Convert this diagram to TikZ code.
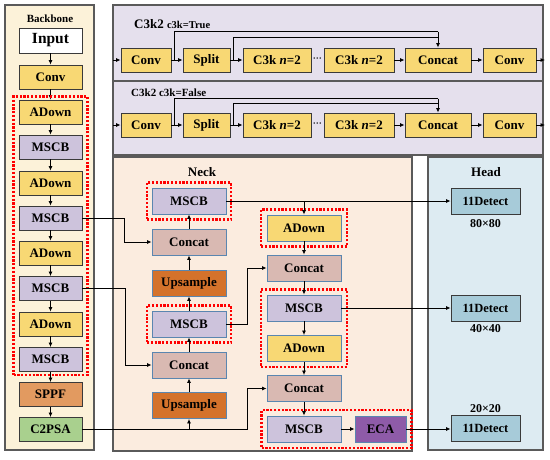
\documentclass[tikz,border=0pt]{standalone}
\usepackage{fontspec}
\setmainfont{Liberation Serif}
\usetikzlibrary{arrows.meta,fit,calc}
\definecolor{bbbg}{HTML}{FCF2D9}
\definecolor{topbg}{HTML}{E5E0ED}
\definecolor{neckbg}{HTML}{FBECDF}
\definecolor{headbg}{HTML}{DDEBF2}
\definecolor{yel}{HTML}{F8D874}
\definecolor{msc}{HTML}{CDC3DC}
\definecolor{cat}{HTML}{D9B9B2}
\definecolor{ups}{HTML}{D4722B}
\definecolor{eca}{HTML}{8E5BA8}
\definecolor{det}{HTML}{A7CBD9}
\definecolor{spp}{HTML}{E29A60}
\definecolor{c2p}{HTML}{A9D08E}
\definecolor{nbord}{HTML}{5A86B0}
\definecolor{dbord}{HTML}{3A3A3A}
\definecolor{pbord}{HTML}{5A5A5A}
\begin{document}
\begin{tikzpicture}[x=1pt,y=-1pt,
  panel/.style={draw=pbord,line width=1.2pt},
  blk/.style={draw=dbord,line width=0.9pt,minimum width=63pt,minimum height=24pt,inner sep=0pt,font=\bfseries\fontsize{13}{13}\selectfont},
  tblk/.style={draw=dbord,line width=0.9pt,minimum height=24pt,inner sep=0pt,font=\bfseries\fontsize{13}{13}\selectfont,fill=yel},
  nblk/.style={draw=nbord,line width=0.9pt,minimum width=74pt,minimum height=26pt,inner sep=0pt,font=\bfseries\fontsize{13}{13}\selectfont},
  hblk/.style={draw=dbord,line width=0.9pt,minimum width=69pt,minimum height=26pt,inner sep=0pt,fill=det,font=\bfseries\fontsize{12.5}{12.5}\selectfont},
  reddot/.style={draw=red,line width=2.3pt,dash pattern=on 2.2pt off 1.6pt},
  arr/.style={-{Latex[length=4.5pt,width=4pt]},line width=0.8pt,black},
  ln/.style={line width=0.8pt,black},
  ttl/.style={font=\bfseries\fontsize{13}{13}\selectfont,inner sep=0pt},
  lbl/.style={font=\bfseries\fontsize{12}{12}\selectfont,inner sep=0pt}]
\useasboundingbox (0,0) rectangle (550,459);
% panels
\draw[panel,fill=bbbg] (5,5) rectangle (94,450);
\draw[panel,fill=topbg] (113,5) rectangle (543,81);
\draw[panel,fill=topbg] (113,81) rectangle (543,155);
\draw[panel,fill=neckbg] (113,157) rectangle (412,451);
\draw[panel,fill=headbg] (428,157) rectangle (543,450);
% titles
\node[font=\bfseries\fontsize{11}{11}\selectfont,inner sep=0pt] (tbb) at (50,19) {Backbone};
\node[ttl] (tneck) at (202,172) {Neck};
\node[ttl] (thead) at (486,172) {Head};
\node[anchor=west,inner sep=0pt] (t1) at (134,24) {\bfseries\fontsize{13}{13}\selectfont C3k2 \fontsize{10.5}{10.5}\selectfont c3k=True};
\node[anchor=west,inner sep=0pt] (t2) at (131,93) {\bfseries\fontsize{11}{11}\selectfont C3k2 c3k=False};
% backbone
\node[blk,fill=white,minimum height=25pt,font=\bfseries\fontsize{15.5}{15.5}\selectfont] (b0) at (50.5,40.5) {Input};
\node[blk,fill=yel] (b1) at (50.5,77) {Conv};
\node[blk,fill=yel] (b2) at (50.5,112) {ADown};
\node[blk,fill=msc] (b3) at (50.5,147) {MSCB};
\node[blk,fill=yel] (b4) at (50.5,183) {ADown};
\node[blk,fill=msc] (b5) at (50.5,218) {MSCB};
\node[blk,fill=yel] (b6) at (50.5,253) {ADown};
\node[blk,fill=msc] (b7) at (50.5,288.5) {MSCB};
\node[blk,fill=yel] (b8) at (50.5,324) {ADown};
\node[blk,fill=msc] (b9) at (50.5,359.5) {MSCB};
\node[blk,fill=spp] (b10) at (50.5,394.5) {SPPF};
\node[blk,fill=c2p] (b11) at (50.5,429.5) {C2PSA};
\foreach \a/\b in {b0/b1,b1/b2,b2/b3,b3/b4,b4/b5,b5/b6,b6/b7,b7/b8,b8/b9,b9/b10,b10/b11}
  \draw[arr] (\a.south) -- (\b.north);
\node[reddot,fit=(b2)(b9),inner xsep=5pt,inner ysep=3pt] (rb) {};
% top panels
\foreach \r/\y in {p/60,q/125}{
  \node[tblk,minimum width=50pt] (\r1) at (146,\y) {Conv};
  \node[tblk,minimum width=47pt] (\r2) at (206.5,\y) {Split};
  \node[tblk,minimum width=68pt] (\r3) at (277,\y) {C3k \textit{n}=2};
  \node[font=\bfseries\fontsize{9}{9}\selectfont,inner sep=0pt] (\r d) at (317.5,\y) {···};
  \node[tblk,minimum width=70pt] (\r4) at (359,\y) {C3k \textit{n}=2};
  \node[tblk,minimum width=66pt] (\r5) at (438,\y) {Concat};
  \node[tblk,minimum width=53pt] (\r6) at (509.5,\y) {Conv};
  \coordinate (\r in) at (113,\y);
  \coordinate (\r out) at (545,\y);
  \draw[arr] (\r in) -- (\r1.west);
  \draw[arr] (\r1.east) -- (\r2.west);
  \draw[arr] (\r2.east) -- (\r3.west);
  \draw[arr] (\r4.east) -- (\r5.west);
  \draw[arr] (\r5.east) -- (\r6.west);
  \draw[arr] (\r6.east) -- (\r out);
}
\draw[ln] ([xshift=3pt]p1.east) |- ([yshift=16pt]p5.north);
\draw[ln] ([xshift=3pt]p2.east) |- ([yshift=10pt]p5.north);
\draw[arr] ([yshift=16pt]p5.north) -- (p5.north);
\draw[ln] ([xshift=3pt]q1.east) |- ([yshift=14pt]q5.north);
\draw[ln] ([xshift=3pt]q2.east) |- ([yshift=9pt]q5.north);
\draw[arr] ([yshift=14pt]q5.north) -- (q5.north);
% neck left column
\node[nblk,fill=msc] (nm1) at (189,201) {MSCB};
\node[nblk,fill=cat] (nc1) at (189,242) {Concat};
\node[nblk,fill=ups] (nu1) at (189,283) {Upsample};
\node[nblk,fill=msc] (nm2) at (189,324) {MSCB};
\node[nblk,fill=cat] (nc2) at (189,365) {Concat};
\node[nblk,fill=ups] (nu2) at (189,405.5) {Upsample};
\node[reddot,fit=(nm1),inner xsep=4.5pt,inner ysep=5pt] (rn1) {};
\node[reddot,fit=(nm2),inner xsep=4.5pt,inner ysep=5pt] (rn2) {};
\draw[arr] (nc1.north) -- (nm1.south);
\draw[arr] (nu1.north) -- (nc1.south);
\draw[arr] (nm2.north) -- (nu1.south);
\draw[arr] (nc2.north) -- (nm2.south);
\draw[arr] (nu2.north) -- (nc2.south);
% neck right column
\node[nblk,fill=yel] (ra1) at (304,228) {ADown};
\node[nblk,fill=cat] (rc1) at (304,268) {Concat};
\node[nblk,fill=msc] (rm1) at (304,308) {MSCB};
\node[nblk,fill=yel] (ra2) at (304,348.5) {ADown};
\node[nblk,fill=cat] (rc2) at (304,388.5) {Concat};
\node[nblk,fill=msc] (rm2) at (304,429) {MSCB};
\node[nblk,fill=eca,minimum width=51pt] (eca) at (380.5,429) {ECA};
\node[reddot,fit=(ra1),inner xsep=5.5pt,inner ysep=5pt] (rr1) {};
\node[reddot,fit=(rm1)(ra2),inner xsep=5.5pt,inner ysep=5pt] (rr2) {};
\node[reddot,fit=(rm2)(eca),inner xsep=5pt,inner ysep=5.5pt] (rr3) {};
\draw[arr] (ra1.south) -- (rc1.north);
\draw[arr] (rc1.south) -- (rm1.north);
\draw[arr] (rm1.south) -- (ra2.north);
\draw[arr] (ra2.south) -- (rc2.north);
\draw[arr] (rc2.south) -- (rm2.north);
\draw[arr] (rm2.east) -- (eca.west);
% head
\node[hblk] (d1) at (485.5,201) {11Detect};
\node[hblk] (d2) at (485.5,308) {11Detect};
\node[hblk] (d3) at (485.5,428) {11Detect};
\node[lbl] (l1) at (485.5,224) {80×80};
\node[lbl] (l2) at (485.5,329) {40×40};
\node[lbl] (l3) at (485.5,409) {20×20};
% cross connections
\draw[arr] (b5.east) -- ++(42,0) |- (nc1.west);
\draw[arr] (b7.east) -- ++(43,0) |- (nc2.west);
\draw[arr] (b11.east) -- ++(165,0) |- (rc2.west);
\draw[arr] (b11.east -| nu2) -- (nu2.south);
\draw[arr] (nm2.east) -- ++(21,0) |- (rc1.west);
\draw[arr] (nm1.east) -- (nm1.east -| d1.west);
\draw[arr] (nm1.east -| ra1) -- (ra1.north);
\draw[arr] (rm1.east) -- (rm1.east -| d2.west);
\draw[arr] (eca.east) -- (eca.east -| d3.west);
\end{tikzpicture}
\end{document}
